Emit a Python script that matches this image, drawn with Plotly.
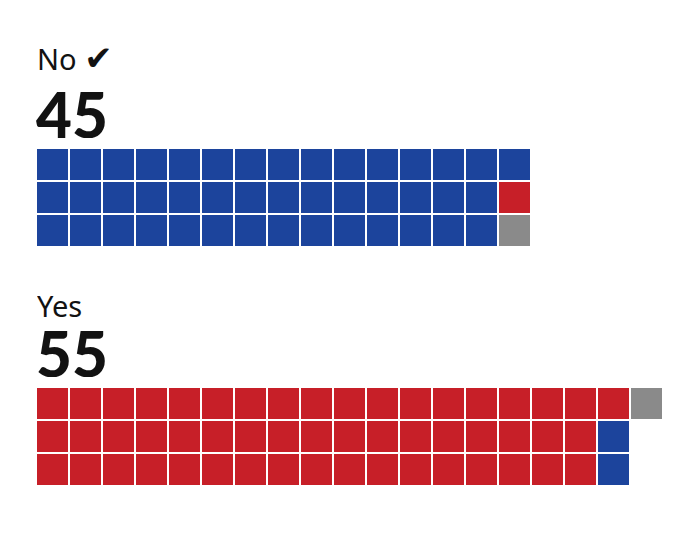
import plotly.graph_objects as go

# ---- data ----
groups = ["No", "Yes"]
group_totals = [45, 55]
winner = ["No"]                      # outcome marked with a tick
segment_names = ["Blue", "Red", "Grey"]
segment_colors = ["#1c449c", "#c71f28", "#8a8a8a"]
no_segments = [43, 1, 1]             # blue, red, grey cells in "No"
yes_segments = [2, 52, 1]            # blue, red, grey cells in "Yes"
no_fill_order = [0, 1, 2]
yes_fill_order = [1, 0, 2]
n_rows = 3

W, H = 700, 560
PITCH = 33
LEFT = 28


def build_grid(counts, order):
    seq = []
    for k in order:
        seq += [k] * counts[k]
    n_cols = -(-len(seq) // n_rows)
    z = [[None] * n_cols for _ in range(n_rows)]
    for i, v in enumerate(seq):
        z[i % n_rows][i // n_rows] = v
    return z, n_cols


fig = go.Figure()
grids = [build_grid(no_segments, no_fill_order), build_grid(yes_segments, yes_fill_order)]
cs = [[0, segment_colors[0]], [0.5, segment_colors[1]], [1, segment_colors[2]]]
for gi, (z, ncol) in enumerate(grids):
    fig.add_trace(go.Heatmap(
        z=z, x=list(range(ncol)), y=list(range(n_rows)),
        zmin=0, zmax=2, colorscale=cs, showscale=False,
        xgap=2, ygap=2, hoverinfo="skip",
        yaxis="y" if gi == 0 else "y2",
    ))

x0 = -LEFT / PITCH - 0.5
x1 = (W - LEFT) / PITCH - 0.5
tops = [140, 379]
doms = [[(H - (t + n_rows * PITCH)) / H, (H - t) / H] for t in tops]

ax_common = dict(showgrid=False, zeroline=False, showticklabels=False, ticks="", fixedrange=True)
fig.update_layout(
    width=W, height=H,
    margin=dict(l=0, r=0, t=0, b=0),
    paper_bgcolor="white", plot_bgcolor="white",
    showlegend=False,
    xaxis=dict(range=[x0, x1], **ax_common),
    yaxis=dict(range=[n_rows - 0.5, -0.5], domain=doms[0], **ax_common),
    yaxis2=dict(range=[n_rows - 0.5, -0.5], domain=doms[1], anchor="x", **ax_common),
)

label_y = [50, 297]
num_y = [106, 345]
for gi, g in enumerate(groups):
    txt = g + (" <span style='font-size:34px;font-family:DejaVu Sans;font-weight:bold'>✔</span>"
               if g in winner else "")
    fig.add_annotation(text=txt, xref="paper", yref="paper", x=27 / W, y=1 - label_y[gi] / H,
                       xanchor="left", yanchor="middle", showarrow=False, height=30, valign="middle",
                       font=dict(family="Noto Sans, DejaVu Sans", size=29, color="#121212"))
    fig.add_annotation(text=f"{group_totals[gi]}", xref="paper", yref="paper", x=26 / W,
                       y=1 - num_y[gi] / H, xanchor="left", yanchor="middle", showarrow=False,
                       height=48, valign="middle",
                       font=dict(family="Lato, Liberation Sans", size=62, color="#121212", weight=900))

fig.write_html("out.html")
